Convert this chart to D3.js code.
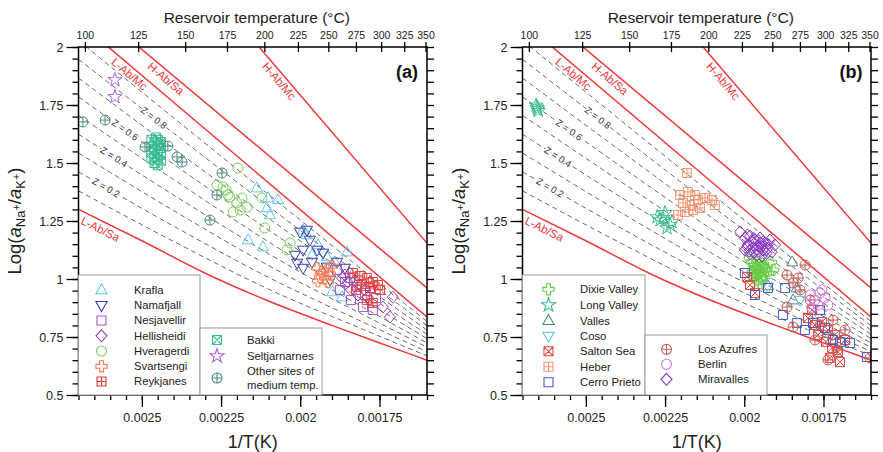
<!DOCTYPE html>
<html><head><meta charset="utf-8">
<script src="https://cdn.jsdelivr.net/npm/d3@7"></script>
<style>
body{margin:0;background:#fff}
text{font-family:"Liberation Sans",Arial,Helvetica,sans-serif}
</style></head>
<body><svg id="c" width="883" height="452"></svg>
<script>
// ---------- axis data ----------
const xTicks=[0.0025,0.00225,0.002,0.00175];
const xTickLabels=["0.0025","0.00225","0.002","0.00175"];
const yTicks=[0.5,0.75,1,1.25,1.5,1.75,2];
const yTickLabels=["0.5","0.75","1","1.25","1.5","1.75","2"];
const tempTicks=[100,125,150,175,200,225,250,275,300,325,350];

// ---------- reference lines (1/T, log aNa/aK) ----------
const lineLAbSa=[[0.0027,1.30],[0.0025,1.165],[0.0023,1.025],[0.0021,0.905],[0.0019,0.80],[0.0017,0.70],[0.0016,0.65]];
const lineLAbMc=[[0.0027,2.109],[0.0016,0.836]];
const lineHAbSa=[[0.0027,2.218],[0.0016,0.961]];
const lineHAbMc=[[0.00213,2.0],[0.0016,1.155]];
const zLineX=[0.0027,0.0024,0.0021,0.0018,0.0016];
const zLevels=[0.1,0.2,0.3,0.4,0.5,0.6,0.7,0.8,0.9];
const zLineY=[
 [1.380,1.162,0.956,0.782,0.669],
 [1.462,1.228,1.007,0.813,0.687],
 [1.543,1.295,1.058,0.845,0.706],
 [1.624,1.362,1.109,0.877,0.724],
 [1.705,1.429,1.160,0.909,0.743],
 [1.785,1.495,1.211,0.940,0.762],
 [1.866,1.562,1.262,0.972,0.780],
 [1.947,1.629,1.313,1.004,0.799],
 [2.028,1.695,1.364,1.035,0.817]];
const zLabelLevels=[0.2,0.4,0.6,0.8];
const zLabelX=[0.002613,0.002588,0.002553,0.002462];

// ---------- panel (a) Icelandic data ----------
const krafla=[[0.002137,1.392],[0.002102,1.349],[0.00207,1.341],[0.002105,1.306],[0.002096,1.276],[0.002165,1.168],[0.002118,1.138],[0.001991,1.211],[0.001979,1.19],[0.001944,1.147],[0.001916,1.095],[0.001891,1.073],[0.001853,1.116],[0.001899,0.944],[0.001868,0.922],[0.001963,1.103],[0.001932,1.039],[0.001837,1.017]];
const namafjall=[[0.002001,1.203],[0.001979,1.211],[0.001991,1.125],[0.00201,1.069],[0.001991,1.047],[0.001963,1.073],[0.001947,1.125],[0.001928,1.112],[0.001916,1.052],[0.002017,1.103],[0.00197,1.168],[0.001906,0.996],[0.001884,1.073],[0.001859,1.047]];
const nesjavellir=[[0.001884,1.039],[0.001859,0.987],[0.001821,0.966],[0.001802,0.879],[0.001771,0.866],[0.001875,0.953],[0.001843,1.004],[0.001796,0.931],[0.001761,0.918],[0.00184,0.909]];
const hellisheidi=[[0.001868,1.004],[0.00185,0.987],[0.001827,0.996],[0.001812,0.974],[0.00184,0.953],[0.001796,0.953],[0.001859,1.017],[0.001818,0.931],[0.001787,0.922],[0.001739,0.879],[0.001708,0.922],[0.001717,0.836],[0.00178,0.987]];
const hveragerdi=[[0.002197,1.478],[0.002244,1.397],[0.002228,1.362],[0.0022,1.328],[0.002184,1.349],[0.002212,1.289],[0.002168,1.31],[0.002263,1.405],[0.002222,1.353],[0.002121,1.349],[0.002112,1.22],[0.002032,1.155],[0.002042,1.125],[0.00219,1.297],[0.002234,1.384]];
const svartsengi=[[0.001947,1.047],[0.001932,1.03],[0.001916,1.039],[0.001938,1.009],[0.001922,1.004],[0.001906,1.022],[0.001944,0.991],[0.001913,0.987],[0.0019,1.056]];
const reykjanes=[[0.001834,1.026],[0.001812,1.013],[0.00179,1.004],[0.001771,0.987],[0.001755,0.974],[0.001806,0.978],[0.00178,0.961],[0.00179,0.909],[0.001771,0.897],[0.001824,0.953],[0.001748,0.953]];
const bakki=[[0.00247,1.60],[0.00246,1.59],[0.00245,1.60],[0.00244,1.59],[0.00247,1.57],[0.00245,1.575],[0.00244,1.565],[0.00246,1.555],[0.00247,1.545],[0.00245,1.54],[0.00244,1.535],[0.00246,1.525],[0.00245,1.515],[0.00247,1.52],[0.00244,1.51],[0.00246,1.50],[0.00245,1.49],[0.00244,1.58],[0.002455,1.61]];
const seltjarnarnes=[[0.002585,1.858],[0.002585,1.785]];
const otherSites=[[0.002686,1.677],[0.002616,1.685],[0.00249,1.569],[0.002418,1.573],[0.002389,1.526],[0.002373,1.504],[0.002247,1.457],[0.002263,1.362],[0.002285,1.254]];

// ---------- panel (b) American data ----------
const dixieValley=[[0.001976,1.073],[0.001957,1.082],[0.001941,1.065],[0.001966,1.047],[0.00195,1.039],[0.001935,1.047],[0.00196,1.017],[0.001944,1.004],[0.001925,1.026],[0.001973,1.03],[0.00195,0.983],[0.001909,1.039],[0.001916,1.073],[0.001982,1.091],[0.001955,1.06],[0.001968,1.005],[0.00197,1.06],[0.00196,1.05],[0.001945,1.055],[0.00193,1.04],[0.00197,1.02],[0.001955,1.025],[0.00194,1.02],[0.001962,0.995],[0.001948,1.0]];
const longValley=[[0.002654,1.74],[0.00265,1.725],[0.002657,1.748],[0.002652,1.733],[0.002257,1.263],[0.002234,1.233],[0.00225,1.285],[0.002266,1.254],[0.002275,1.267],[0.002228,1.246],[0.002244,1.22]];
const valles=[[0.001849,1.073],[0.001834,0.961],[0.001846,0.909],[0.001925,0.97]];
const coso=[[0.001925,0.966],[0.00173,0.75],[0.001698,0.729],[0.001761,0.832],[0.001824,0.909]];
const saltonSea=[[0.001991,1.009],[0.001982,0.974],[0.001966,0.94],[0.001799,0.832],[0.001777,0.802],[0.001755,0.815],[0.001736,0.78],[0.001714,0.759],[0.001767,0.759],[0.001742,0.729],[0.001723,0.703],[0.001704,0.685],[0.001682,0.737],[0.001786,0.866],[0.00173,0.66],[0.001698,0.642]];
const heber=[[0.002181,1.457],[0.002203,1.362],[0.002178,1.375],[0.002156,1.362],[0.002193,1.328],[0.002171,1.319],[0.002146,1.341],[0.002124,1.349],[0.002102,1.341],[0.002187,1.289],[0.002162,1.297],[0.00214,1.306],[0.002209,1.276],[0.002093,1.319]];
const cerroPrieto=[[0.001998,1.026],[0.001966,0.931],[0.001925,0.961],[0.001871,0.961],[0.001878,0.845],[0.001834,0.81],[0.001783,0.81],[0.001761,0.866],[0.00172,0.737],[0.001698,0.729],[0.001666,0.724],[0.001613,0.664],[0.001808,0.78],[0.001745,0.789]];
const losAzufres=[[0.001808,1.06],[0.001865,1.017],[0.001846,0.983],[0.001824,0.953],[0.001865,0.879],[0.001846,0.793],[0.00172,0.823],[0.001707,0.694],[0.001603,0.66],[0.001792,0.909],[0.001761,0.802],[0.001682,0.78],[0.001736,0.651],[0.001777,0.737],[0.00183,1.004]];
const berlin=[[0.001792,0.931],[0.001777,0.909],[0.001761,0.94],[0.001745,0.918],[0.001767,0.888],[0.001786,0.875],[0.001736,0.888],[0.001755,0.953]];
const miravalles=[[0.002013,1.203],[0.001998,1.177],[0.001982,1.185],[0.001966,1.168],[0.00195,1.177],[0.001935,1.155],[0.001919,1.168],[0.001989,1.147],[0.001973,1.134],[0.001957,1.142],[0.001941,1.125],[0.001925,1.134],[0.001998,1.125],[0.001982,1.108],[0.00196,1.103],[0.001944,1.099],[0.001913,1.116],[0.001903,1.147],[0.001975,1.16],[0.00195,1.155],[0.00193,1.11],[0.00199,1.19],[0.00197,1.175],[0.001955,1.165],[0.00194,1.16],[0.001925,1.15],[0.00199,1.14],[0.00196,1.13],[0.001945,1.14],[0.00193,1.125],[0.001985,1.12],[0.00197,1.115],[0.001955,1.12]];

// ---------- styles ----------
const stylesA=[
 {name:"Krafla",data:krafla,sym:"triUp",color:"#62c6e8"},
 {name:"Namafjall",data:namafjall,sym:"triDown",color:"#3a3fb2"},
 {name:"Nesjavellir",data:nesjavellir,sym:"square",color:"#a552d2"},
 {name:"Hellisheidi",data:hellisheidi,sym:"diamond",color:"#9a3fc2"},
 {name:"Hveragerdi",data:hveragerdi,sym:"circle",color:"#78d058"},
 {name:"Svartsengi",data:svartsengi,sym:"cross",color:"#ff7a4a"},
 {name:"Reykjanes",data:reykjanes,sym:"sqPlus",color:"#e83c36"},
 {name:"Bakki",data:bakki,sym:"sqX",color:"#38bc92"},
 {name:"Seltjarnarnes",data:seltjarnarnes,sym:"star",color:"#b060e0"},
 {name:"Other sites of|medium temp.",data:otherSites,sym:"circPlus",color:"#4a8a84"}];
const stylesB=[
 {name:"Dixie Valley",data:dixieValley,sym:"cross",color:"#66cc44"},
 {name:"Long Valley",data:longValley,sym:"star",color:"#38bc8e"},
 {name:"Valles",data:valles,sym:"triUp",color:"#4d8888"},
 {name:"Coso",data:coso,sym:"triDown",color:"#62c0e6"},
 {name:"Salton Sea",data:saltonSea,sym:"sqX",color:"#e8463f"},
 {name:"Heber",data:heber,sym:"sqPlus",color:"#f59572"},
 {name:"Cerro Prieto",data:cerroPrieto,sym:"square",color:"#4856c8"},
 {name:"Los Azufres",data:losAzufres,sym:"circPlus",color:"#c65a55"},
 {name:"Berlin",data:berlin,sym:"circle",color:"#d274e2"},
 {name:"Miravalles",data:miravalles,sym:"diamond",color:"#8a34c6"}];

function symPath(t){
  const sq="M-4.5,-4.5H4.5V4.5H-4.5Z", ci="M5,0A5,5 0 1,1 -5,0A5,5 0 1,1 5,0Z";
  switch(t){
    case "triUp": return "M0,-6.2L5.6,3.8L-5.6,3.8Z";
    case "triDown": return "M0,6.2L5.6,-3.8L-5.6,-3.8Z";
    case "square": return sq;
    case "diamond": return "M0,-6L5.5,0L0,6L-5.5,0Z";
    case "circle": return ci;
    case "cross": return "M-1.9,-5.6H1.9V-1.9H5.6V1.9H1.9V5.6H-1.9V1.9H-5.6V-1.9H-1.9Z";
    case "sqPlus": return sq+"M0,-4.5V4.5M-4.5,0H4.5";
    case "sqX": return sq+"M-4.5,-4.5L4.5,4.5M4.5,-4.5L-4.5,4.5";
    case "star": return d3.symbol(d3.symbolStar,62)();
    case "circPlus": return ci+"M0,-5V5M-5,0H5";
  }
}

const svg=d3.select("#c");
const Y0=395,Y1=47;

function drawPanel(p,idx){
  const x=d3.scaleLinear().domain([0.0027,0.0016]).range([p.x0,p.x1]);
  const y=d3.scaleLinear().domain([0.5,2]).range([Y0,Y1]);
  const g=svg.append("g");
  const cid="clip"+idx;
  g.append("clipPath").attr("id",cid).append("rect")
    .attr("x",p.x0).attr("y",Y1).attr("width",p.x1-p.x0).attr("height",Y0-Y1);
  const pg=g.append("g").attr("clip-path",`url(#${cid})`);
  const ln=d3.line().x(d=>x(d[0])).y(d=>y(d[1]));
  const lnc=d3.line().curve(d3.curveMonotoneX).x(d=>x(d[0])).y(d=>y(d[1]));
  // Z dashed lines
  zLineY.forEach(ys=>{
    pg.append("path").attr("d",lnc(zLineX.map((xx,i)=>[xx,ys[i]])))
      .attr("fill","none").attr("stroke","#6b6b6b").attr("stroke-width",1).attr("stroke-dasharray","5,3.5");
  });
  // red lines
  [lineLAbMc,lineHAbSa,lineHAbMc].forEach(l=>{
    pg.append("path").attr("d",ln(l)).attr("fill","none").attr("stroke","#ee3a3a").attr("stroke-width",1.5);
  });
  pg.append("path").attr("d",lnc(lineLAbSa)).attr("fill","none").attr("stroke","#ee3a3a").attr("stroke-width",1.5);
  // Z labels
  zLabelLevels.forEach((z,i)=>{
    const k=zLevels.indexOf(z);
    const f=d3.scaleLinear().domain(zLineX).range(zLineY[k]);
    const xv=zLabelX[i];
    const px=x(xv),py=y(f(xv));
    const px2=x(xv-0.00002),py2=y(f(xv-0.00002));
    const ang=Math.atan2(py2-py,px2-px)*180/Math.PI;
    pg.append("text").attr("transform",`translate(${px},${py}) rotate(${ang})`)
      .attr("text-anchor","middle").attr("dy","0.35em").style("font-size","9.5px")
      .attr("fill","#333").attr("stroke","#fff").attr("stroke-width",3).attr("paint-order","stroke")
      .text("Z = "+z);
  });
  // red labels
  function redLabel(line,xv,txt,off){
    const f=d3.scaleLinear().domain(line.map(d=>d[0])).range(line.map(d=>d[1]));
    const px=x(xv),py=y(f(xv));
    const px2=x(xv-0.00002),py2=y(f(xv-0.00002));
    const a=Math.atan2(py2-py,px2-px);
    const cx=px-Math.sin(a)*off, cy=py+Math.cos(a)*off;
    g.append("text").attr("transform",`translate(${cx},${cy}) rotate(${a*180/Math.PI})`)
      .attr("text-anchor","middle").attr("dy","0.35em").style("font-size","11.5px").attr("fill","#ee3a3a").text(txt);
  }
  redLabel(lineLAbMc,0.002525,"L-Ab/Mc",7);
  redLabel(lineHAbSa,0.00241,"H-Ab/Sa",7);
  redLabel(lineHAbMc,0.00205,"H-Ab/Mc",7);
  redLabel(lineLAbSa,0.00262,"L-Ab/Sa",8);

  // data
  p.styles.forEach(s=>{
    pg.append("g").selectAll("path").data(s.data).join("path")
      .attr("transform",d=>`translate(${x(d[0])},${y(d[1])})`)
      .attr("d",symPath(s.sym)).attr("fill","none").attr("stroke",s.color).attr("stroke-width",1);
  });

  // axes
  const ax=g.append("g");
  const minorX=d3.range(0,23).map(i=>+(0.0027-i*0.00005).toFixed(6));
  const minorY=d3.range(0,31).map(i=>+(0.5+i*0.05).toFixed(2));
  ax.append("g").attr("transform",`translate(0,${Y0})`).call(d3.axisBottom(x).tickValues(minorX).tickSize(5).tickFormat(""));
  ax.append("g").attr("transform",`translate(0,${Y0})`).call(d3.axisBottom(x).tickValues(xTicks).tickSize(12).tickPadding(6).tickFormat((d,i)=>xTickLabels[i]));
  ax.append("g").attr("transform",`translate(${p.x0},0)`).call(d3.axisLeft(y).tickValues(minorY).tickSize(6).tickFormat(""));
  ax.append("g").attr("transform",`translate(${p.x0},0)`).call(d3.axisLeft(y).tickValues(yTicks).tickSize(12).tickPadding(3).tickFormat((d,i)=>yTickLabels[i]));
  ax.append("g").attr("transform",`translate(${p.x1},0)`).call(d3.axisRight(y).tickValues(minorY).tickSize(7).tickFormat(""));
  const top=ax.append("g").attr("transform",`translate(0,${Y1})`);
  top.call(d3.axisTop(x).tickValues(tempTicks.map(t=>1/(t+273.15))).tickSize(5).tickPadding(3).tickFormat((d,i)=>tempTicks[i]));
  top.selectAll(".tick line").attr("y1",5);
  ax.selectAll(".domain").remove();
  ax.selectAll(".tick line").attr("stroke","#000").attr("stroke-width",1.3);
  ax.selectAll("text").attr("fill","#222");
  ax.selectAll("g").style("font-family",null);
  ax.selectAll(".tick text").style("font-size","12.5px");
  top.selectAll(".tick text").style("font-size","10.5px");
  g.append("rect").attr("x",p.x0).attr("y",Y1).attr("width",p.x1-p.x0).attr("height",Y0-Y1)
    .attr("fill","none").attr("stroke","#000").attr("stroke-width",1.5);

  // legends
  function legend(items,bx,by,bw,bh,sx,tx0,rows){
    const lg=g.append("g");
    lg.append("rect").attr("x",bx).attr("y",by).attr("width",bw).attr("height",bh)
      .attr("fill","#fff").attr("stroke","#999").attr("stroke-width",1);
    items.forEach((s,i)=>{
      const ry=rows[i];
      lg.append("path").attr("transform",`translate(${sx},${ry})`).attr("d",symPath(s.sym))
        .attr("fill","none").attr("stroke",s.color).attr("stroke-width",1.1);
      const parts=s.name.split("|");
      const t=lg.append("text").attr("x",tx0).attr("y",ry-(parts.length-1)*6.8)
        .style("font-size","11.3px").attr("fill","#222");
      parts.forEach((pt,j)=>t.append("tspan").attr("x",tx0).attr("dy",j?"13.6":"0.35em").text(pt));
    });
  }
  legend(p.styles.slice(0,7),p.x0,275,p.leg1w,Y0-275,p.x0+p.l1sx,p.x0+p.l1tx,p.rows1);
  legend(p.styles.slice(7),p.x0+p.leg1w,p.leg2y,p.leg2w,Y0-p.leg2y,p.x0+p.leg1w+p.l2sx,p.x0+p.leg1w+p.l2tx,p.rows2);

  g.append("text").attr("x",p.x1-20).attr("y",78).attr("text-anchor","middle")
    .style("font-size","18px").style("font-weight","bold").attr("fill","#111").text(p.label);
  const cx=(p.x0+p.x1)/2;
  g.append("text").attr("x",cx+4).attr("y",23).attr("text-anchor","middle").style("font-size","15.5px").attr("fill","#222").text("Reservoir temperature (°C)");
  g.append("text").attr("x",cx).attr("y",448).attr("text-anchor","middle").style("font-size","18px").attr("fill","#222").text("1/T(K)");
  const yl=g.append("text").attr("transform",`translate(${p.x0-58},221) rotate(-90)`).attr("text-anchor","middle")
    .style("font-size","18.5px").attr("fill","#222");
  yl.append("tspan").text("Log(");
  yl.append("tspan").style("font-style","italic").text("a");
  yl.append("tspan").attr("dy",4).style("font-size","13px").text("Na");
  yl.append("tspan").attr("dy",-5).style("font-size","11px").text("+");
  yl.append("tspan").attr("dy",1).text("/");
  yl.append("tspan").style("font-style","italic").text("a");
  yl.append("tspan").attr("dy",4).style("font-size","13px").text("K");
  yl.append("tspan").attr("dy",-5).style("font-size","11px").text("+");
  yl.append("tspan").attr("dy",1).text(")");
}

drawPanel({x0:78.5,x1:427,styles:stylesA,label:"(a)",leg1w:121.5,leg2y:328,leg2w:122,
  l1sx:23,l1tx:55.5,l2sx:17,l2tx:47,
  rows1:[290,305.3,320.5,335.8,351,366.3,381.5],rows2:[340,356,378]},0);
drawPanel({x0:522.5,x1:871,styles:stylesB,label:"(b)",leg1w:122.5,leg2y:335,leg2w:122,
  l1sx:26,l1tx:57.5,l2sx:21.5,l2tx:53,
  rows1:[289.3,305,320.7,336,351.3,366.7,382.3],rows2:[349.3,364.3,379.3]},1);
</script></body></html>
